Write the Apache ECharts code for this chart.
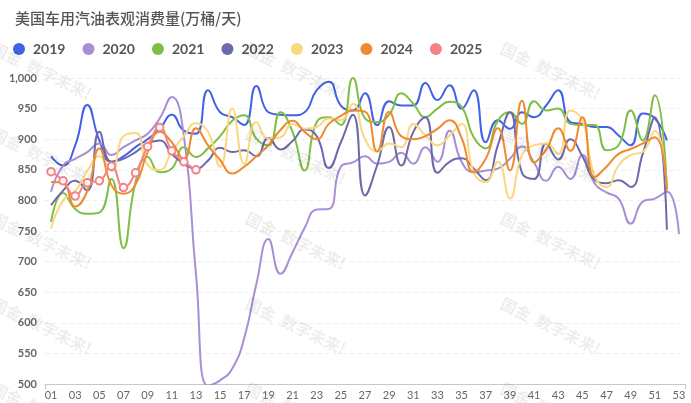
<!DOCTYPE html>
<html>
<head>
<meta charset="utf-8">
<title>美国车用汽油表观消费量</title>
<script src="https://cdn.jsdelivr.net/npm/echarts@6/dist/echarts.min.js"></script>
<style>
  html, body { margin: 0; padding: 0; background: #fff; }
  #chart { width: 691px; height: 403px; }
</style>
</head>
<body>
<div id="chart"></div>
<script>
  // 周次
  const weeks = [
    '01', '02', '03', '04', '05', '06', '07', '08', '09', '10',
    '11', '12', '13', '14', '15', '16', '17', '18', '19', '20',
    '21', '22', '23', '24', '25', '26', '27', '28', '29', '30',
    '31', '32', '33', '34', '35', '36', '37', '38', '39', '40',
    '41', '42', '43', '44', '45', '46', '47', '48', '49', '50',
    '51', '52', '53',
  ]

  const years = ['2019', '2020', '2021', '2022', '2023', '2024', '2025']

  // 各年每周数据 (万桶/天)
  const y2019 = [872, 857, 890, 956, 898, 863, 872, 887, 900, 917, 940, 914, 909, 980, 944, 936, 923, 987, 944, 940, 939, 944, 980, 994, 955, 947, 975, 923, 962, 955, 955, 992, 964, 988, 950, 980, 895, 931, 917, 944, 936, 955, 980, 928, 925, 920, 920, 906, 890, 942, 934, 898]
  const y2020 = [814, 857, 868, 879, 893, 874, 887, 898, 909, 934, 969, 905, 680, 497, 506, 525, 575, 663, 737, 680, 715, 755, 785, 786, 855, 862, 872, 860, 863, 878, 860, 887, 863, 914, 863, 846, 849, 852, 868, 888, 862, 832, 855, 835, 874, 828, 813, 803, 762, 798, 803, 814, 745]
  const y2021 = [765, 812, 786, 778, 780, 835, 722, 830, 871, 846, 852, 887, 871, 885, 905, 930, 939, 901, 890, 944, 912, 849, 928, 936, 923, 1000, 934, 928, 940, 975, 958, 936, 950, 961, 953, 903, 885, 930, 944, 925, 962, 947, 950, 925, 923, 923, 882, 890, 947, 898, 972, 820]
  const y2022 = [792, 816, 832, 816, 912, 863, 868, 879, 893, 898, 876, 860, 852, 865, 886, 879, 882, 872, 902, 883, 897, 916, 905, 853, 895, 940, 808, 857, 920, 857, 912, 936, 845, 863, 869, 852, 833, 890, 944, 845, 835, 893, 867, 900, 872, 834, 828, 833, 822, 876, 936, 752]
  const y2023 = [754, 800, 815, 848, 872, 848, 905, 910, 858, 850, 880, 905, 926, 912, 855, 950, 860, 928, 901, 903, 925, 917, 920, 934, 931, 958, 900, 880, 893, 887, 925, 906, 890, 906, 925, 846, 830, 863, 803, 874, 890, 893, 876, 947, 931, 841, 822, 857, 874, 879, 914, 822]
  const y2024 = [830, 828, 790, 815, 885, 825, 811, 826, 879, 912, 895, 868, 918, 890, 866, 844, 855, 872, 890, 915, 930, 912, 900, 925, 938, 947, 945, 880, 945, 905, 900, 905, 917, 931, 902, 846, 868, 918, 849, 963, 862, 883, 918, 881, 936, 838, 855, 876, 884, 893, 903, 816]
  const y2025 = [847, 832, 807, 829, 832, 856, 821, 845, 888, 919, 881, 863, 850]

  const seriesData = [y2019, y2020, y2021, y2022, y2023, y2024, y2025]
  const colors = ['#4361e4', '#a98ed6', '#7dbf45', '#6b6aab', '#fbd77f', '#ee8a30', '#f58383']

  // 水印位置
  const markCols = [-4, 250, 505]
  const markRows = [40, 125, 210, 295, 380]

  let chart = echarts.init(document.getElementById('chart'), null, { renderer: 'canvas' })

  let watermark = []
  markCols.forEach((x) => {
    markRows.forEach((y) => {
      watermark.push({
        type: 'text',
        x: x,
        y: y,
        rotation: -0.45,
        silent: true,
        z: 100,
        style: {
          text: '国金  数字未来!',
          fill: 'rgba(0,0,0,0.07)',
          font: 'bold 16px "Noto Sans CJK SC"',
        },
      })
    })
  })

  let series = years.map((name, i) => {
    let isLast = i === years.length - 1
    return {
      name: name,
      type: 'line',
      data: seriesData[i],
      smooth: 0.5,
      showSymbol: isLast,
      symbol: isLast ? 'emptyCircle' : 'none',
      symbolSize: 7.5,
      lineStyle: { width: 2, color: colors[i] },
      itemStyle: { color: colors[i], borderWidth: 1.6 },
      z: 2 + i,
    }
  })

  chart.setOption({
    animation: false,
    color: colors,
    title: {
      text: '美国车用汽油表观消费量(万桶/天)',
      left: 10,
      top: 6,
      textStyle: {
        fontSize: 15,
        fontWeight: 500,
        color: '#555',
        fontFamily: '"Noto Sans CJK SC", Lato, sans-serif',
      },
    },
    legend: {
      data: years,
      left: 8,
      top: 37,
      icon: 'circle',
      itemWidth: 18,
      itemHeight: 12,
      itemGap: 17,
      textStyle: { fontSize: 14, color: '#555', fontFamily: 'Lato', fontWeight: 'bold' },
    },
    grid: { left: 45, right: 6, top: 78, bottom: 19 },
    xAxis: {
      type: 'category',
      data: weeks,
      boundaryGap: true,
      axisLine: { lineStyle: { color: '#c8c8cc' } },
      axisTick: {
        show: true,
        length: 5,
        lineStyle: { color: '#c8c8cc' },
        interval: (i) => i === 0,
      },
      axisLabel: { interval: 1, fontSize: 11, color: '#666', margin: 6, fontFamily: 'Lato' },
    },
    yAxis: {
      type: 'value',
      min: 500,
      max: 1000,
      interval: 50,
      axisLine: { show: false },
      axisTick: { show: false },
      splitLine: { lineStyle: { color: '#eeeeee', type: [4, 4] } },
      axisLabel: {
        fontSize: 11,
        color: '#666',
        fontWeight: 'bold',
        fontFamily: 'Lato',
        margin: 8,
        formatter: (v) => v.toLocaleString('en-US'),
      },
    },
    graphic: watermark,
    series: series,
  })
</script>
</body>
</html>
